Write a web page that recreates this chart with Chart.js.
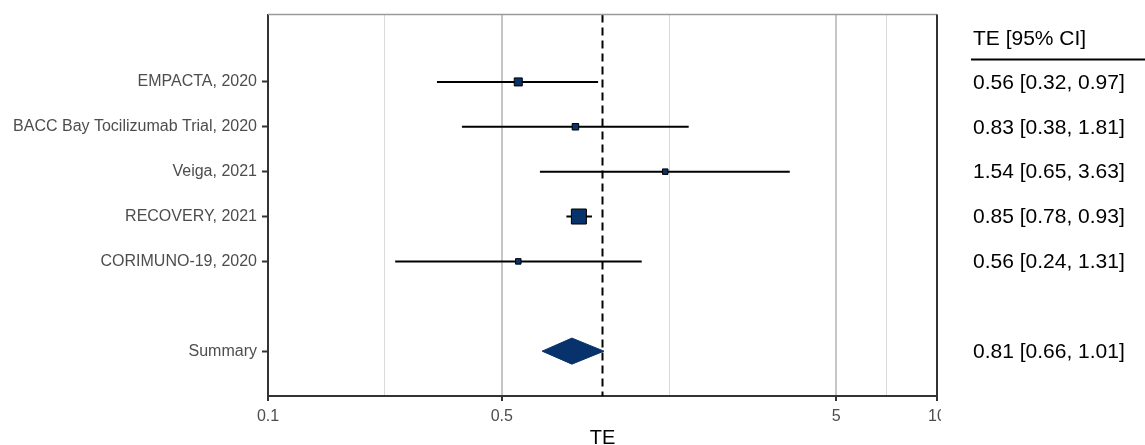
<!DOCTYPE html>
<html>
<head>
<meta charset="utf-8">
<script src="https://cdn.jsdelivr.net/npm/chart.js@4/dist/chart.umd.min.js"></script>
<style>
  body { margin: 0; background: #fff; }
  #wrap { width: 1145px; height: 445px; position: relative; }
</style>
</head>
<body>
<div id="wrap"><canvas id="forest"></canvas></div>
<script>
// study data
const studies = ["EMPACTA, 2020", "BACC Bay Tocilizumab Trial, 2020", "Veiga, 2021", "RECOVERY, 2021", "CORIMUNO-19, 2020"];
const te = [0.56, 0.83, 1.54, 0.85, 0.56];
const lower = [0.32, 0.38, 0.65, 0.78, 0.24];
const upper = [0.97, 1.81, 3.63, 0.93, 1.31];
const weights = [16.4, 10.8, 7.7, 57.5, 7.7];
const rows = [1, 2, 3, 4, 5];

// summary estimate
const summaryLabel = "Summary";
const summaryRow = 7;
const summaryTE = 0.81;
const summaryLower = 0.66;
const summaryUpper = 1.01;

// axis
const xTicks = [0.1, 0.5, 5, 10];
const refValue = 1;
const tableHeader = "TE [95% CI]";

const navy = '#07326b';
const font = '"Liberation Sans", Arial, sans-serif';
const diamondHalf = 0.29;

const fmt = v => v.toFixed(2);
const ciText = studies.map((s, i) => `${fmt(te[i])} [${fmt(lower[i])}, ${fmt(upper[i])}]`);
const summaryText = `${fmt(summaryTE)} [${fmt(summaryLower)}, ${fmt(summaryUpper)}]`;

// minor gridlines halfway (on log scale) between labelled ticks
const gridTicks = [];
xTicks.forEach((v, i) => {
  gridTicks.push({ value: v, minor: false });
  if (i < xTicks.length - 1) gridTicks.push({ value: Math.sqrt(v * xTicks[i + 1]), minor: true });
});

const errorBars = studies.map((s, i) => ({
  type: 'scatter',
  showLine: true,
  data: [{ x: lower[i], y: rows[i] }, { x: upper[i], y: rows[i] }],
  borderColor: '#000',
  borderWidth: 2,
  pointRadius: 0,
  order: 4
}));

// draws the frame and the text table on the right
const tablePlugin = {
  id: 'table',
  afterDraw(chart) {
    const { ctx, chartArea, scales } = chart;
    const y = scales.y;
    ctx.save();
    // hide overflow of the last tick label like the original
    ctx.fillStyle = '#fff';
    ctx.fillRect(chartArea.right + 4, chartArea.bottom + 6, 30, 24);

    ctx.strokeStyle = '#9a9a9a';
    ctx.lineWidth = 1.5;
    ctx.beginPath();
    ctx.moveTo(chartArea.left, chartArea.top);
    ctx.lineTo(chartArea.right, chartArea.top);
    ctx.stroke();
    ctx.strokeStyle = '#333';
    ctx.lineWidth = 2;
    ctx.beginPath();
    ctx.moveTo(chartArea.right, chartArea.top);
    ctx.lineTo(chartArea.right, chartArea.bottom);
    ctx.stroke();

    const tx = chartArea.right + 36;
    ctx.fillStyle = '#000';
    ctx.font = `21px ${font}`;
    ctx.textBaseline = 'middle';
    ctx.textAlign = 'left';
    ctx.fillText(tableHeader, tx, chartArea.top + 25);
    ctx.lineWidth = 2;
    ctx.strokeStyle = '#000';
    ctx.beginPath();
    ctx.moveTo(tx - 2, chartArea.top + 45);
    ctx.lineTo(chart.width, chartArea.top + 45);
    ctx.stroke();
    ciText.forEach((t, i) => ctx.fillText(t, tx, y.getPixelForValue(rows[i]) + 1));
    ctx.fillText(summaryText, tx, y.getPixelForValue(summaryRow) + 1);
    ctx.restore();
  }
};

new Chart(document.getElementById('forest'), {
  type: 'scatter',
  data: {
    datasets: [
      {
        data: studies.map((s, i) => ({ x: te[i], y: rows[i] })),
        pointStyle: 'rect',
        pointRadius: weights.map(w => 1.4 * Math.sqrt(w)),
        backgroundColor: navy,
        borderColor: '#000',
        borderWidth: 1,
        order: 0
      },
      {
        showLine: true,
        data: [
          { x: summaryLower, y: summaryRow },
          { x: summaryTE, y: summaryRow - diamondHalf },
          { x: summaryUpper, y: summaryRow },
          { x: summaryTE, y: summaryRow + diamondHalf },
          { x: summaryLower, y: summaryRow }
        ],
        fill: 'shape',
        backgroundColor: navy,
        borderColor: navy,
        borderWidth: 1,
        tension: 0,
        pointRadius: 0,
        order: 1
      },
      {
        showLine: true,
        data: [{ x: refValue, y: -0.5 }, { x: refValue, y: 8 }],
        borderColor: '#000',
        borderWidth: 2,
        borderDash: [8, 5],
        pointRadius: 0,
        order: 2
      },
      ...errorBars
    ]
  },
  options: {
    responsive: true,
    maintainAspectRatio: false,
    animation: false,
    layout: { padding: { top: 13, right: 208, left: 0, bottom: 0 } },
    plugins: {
      legend: { display: false },
      tooltip: { enabled: false }
    },
    scales: {
      x: {
        type: 'logarithmic',
        min: 0.1,
        max: 10,
        afterBuildTicks: scale => { scale.ticks = gridTicks.map(t => ({ ...t })); },
        afterFit: scale => { scale.height = 49; },
        ticks: {
          autoSkip: false,
          maxRotation: 0,
          padding: 6,
          color: '#4d4d4d',
          font: { family: font, size: 16 },
          callback: function (value, index) {
            return this.ticks[index].minor ? '' : String(value);
          }
        },
        grid: {
          color: ctx => ctx.tick && ctx.tick.minor ? '#d9d9d9' : '#c6c6c6',
          lineWidth: ctx => ctx.tick && ctx.tick.minor ? 1 : 2,
          tickColor: ctx => ctx.tick && ctx.tick.minor ? 'rgba(0,0,0,0)' : '#333',
          tickWidth: 2,
          tickLength: 5
        },
        border: { color: '#333', width: 2 },
        title: {
          display: true,
          text: 'TE',
          color: '#000',
          font: { family: font, size: 20, lineHeight: 0.7 },
          padding: 0
        }
      },
      y: {
        type: 'linear',
        min: -0.5,
        max: 8,
        reverse: true,
        afterBuildTicks: scale => {
          scale.ticks = rows.concat([summaryRow]).map(v => ({ value: v }));
        },
        afterFit: scale => { scale.width = 268; },
        ticks: {
          autoSkip: false,
          padding: 5,
          color: '#4d4d4d',
          font: { family: font, size: 16 },
          callback: value => value === summaryRow ? summaryLabel : studies[rows.indexOf(value)]
        },
        grid: {
          drawOnChartArea: false,
          tickColor: '#333',
          tickWidth: 2,
          tickLength: 6
        },
        border: { color: '#333', width: 2 }
      }
    }
  },
  plugins: [tablePlugin]
});
</script>
</body>
</html>
